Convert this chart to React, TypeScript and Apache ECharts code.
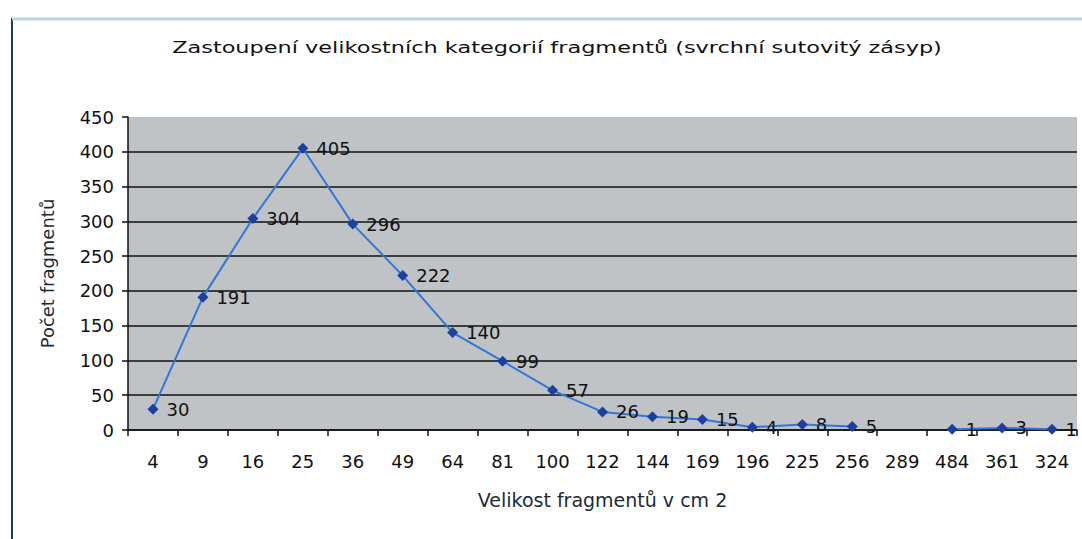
import React, { useEffect, useRef } from "react";
import * as echarts from "echarts";

const categories = ["4", "9", "16", "25", "36", "49", "64", "81", "100", "122", "144", "169", "196", "225", "256", "289", "484", "361", "324"];
const counts: (number | null)[] = [30, 191, 304, 405, 296, 222, 140, 99, 57, 26, 19, 15, 4, 8, 5, null, 1, 3, 1];
const yTicks = { min: 0, max: 450, interval: 50 };

const chartTitle = "Zastoupení velikostních kategorií fragmentů (svrchní sutovitý zásyp)";
const xName = "Velikost fragmentů v cm 2";
const yName = "Počet fragmentů";

const FONT = '"DejaVu Sans", sans-serif';

function measure(text: string, size: number): number {
  const c = document.createElement("canvas");
  const ctx = c.getContext("2d");
  if (!ctx) return text.length * size * 0.6;
  ctx.font = `${size}px "DejaVu Sans"`;
  return ctx.measureText(text).width;
}

export default function App() {
  const ref = useRef<HTMLDivElement>(null);

  useEffect(() => {
    if (!ref.current) return;
    const chart = echarts.init(ref.current, undefined, { renderer: "svg" });
    const titleSize = 16;
    const titleScale = 770 / measure(chartTitle, titleSize);

    chart.setOption({
      animation: false,
      backgroundColor: "#ffffff",
      grid: {
        left: 128,
        right: 5,
        top: 117,
        bottom: 109,
        show: true,
        backgroundColor: "#bfc3c6",
        borderWidth: 0,
      },
      graphic: [
        {
          type: "line",
          shape: { x1: 12, y1: 18, x2: 12, y2: 539 },
          style: { stroke: "#26394a", lineWidth: 2 },
        },
        {
          type: "line",
          shape: { x1: 12, y1: 19, x2: 1082, y2: 19 },
          style: { stroke: "#bcd5e4", lineWidth: 3 },
        },
        {
          type: "text",
          x: 557,
          y: 48,
          scaleX: titleScale,
          style: {
            text: chartTitle,
            font: `${titleSize}px ${FONT}`,
            fill: "#111",
            textAlign: "center",
            textVerticalAlign: "middle",
          },
        },
      ],
      xAxis: {
        type: "category",
        data: categories,
        boundaryGap: true,
        axisLine: { show: true, lineStyle: { color: "#111", width: 1.5 } },
        axisTick: { show: true, alignWithLabel: false, length: 6, lineStyle: { color: "#111", width: 1.5 } },
        axisLabel: { interval: 0, fontSize: 18, fontFamily: FONT, color: "#111", margin: 22 },
        name: xName,
        nameLocation: "middle",
        nameGap: 60,
        nameTextStyle: { fontSize: 19, fontFamily: FONT, color: "#1c2b36" },
      },
      yAxis: {
        type: "value",
        min: yTicks.min,
        max: yTicks.max,
        interval: yTicks.interval,
        axisLine: { show: true, lineStyle: { color: "#111", width: 1.5 } },
        axisTick: { show: true, length: 6, lineStyle: { color: "#111", width: 1.5 } },
        axisLabel: { fontSize: 18, fontFamily: FONT, color: "#111", margin: 14 },
        splitLine: { show: true, showMaxLine: false, lineStyle: { color: "#111", width: 1.5 } },
        name: yName,
        nameLocation: "middle",
        nameRotate: 90,
        nameGap: 72,
        nameTextStyle: { fontSize: 18, fontFamily: FONT, color: "#1c2b36" },
      },
      series: [
        {
          type: "line",
          data: counts,
          connectNulls: false,
          symbol: "diamond",
          symbolSize: 11,
          itemStyle: { color: "#1d3fa0" },
          lineStyle: { color: "#3276d8", width: 2 },
          label: {
            show: true,
            position: "right",
            distance: 8,
            fontSize: 18,
            fontFamily: FONT,
            color: "#111",
          },
        },
      ],
    });
    return () => chart.dispose();
  }, []);

  return (
    <div
      ref={ref}
      style={{ position: "fixed", left: 0, top: 0, width: "1082px", height: "539px" }}
    />
  );
}
